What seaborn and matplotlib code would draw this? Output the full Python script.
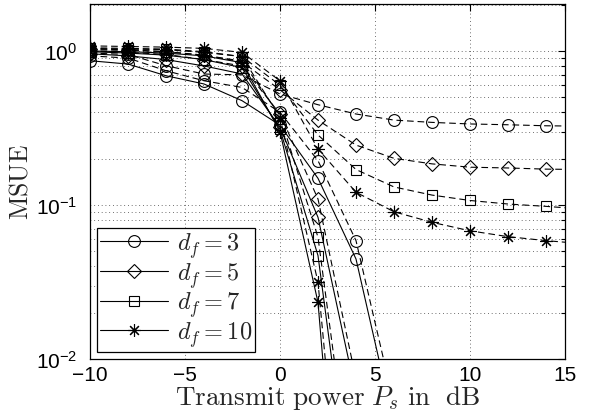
import numpy as np
import pandas as pd
import matplotlib
matplotlib.use("Agg")
import matplotlib.pyplot as plt
import seaborn as sns
from matplotlib.lines import Line2D
from matplotlib.ticker import FixedLocator, NullFormatter, LogFormatterSciNotation

# ---------------- data ----------------
power_db = [-10, -8, -6, -4, -2, 0, 2, 4, 6, 8, 10, 12, 14, 16]
df_labels = ["3", "5", "7", "10"]

# solid curves (steep)
solid_df3 = [0.865, 0.823, 0.691, 0.611, 0.476, 0.33, 0.149, 0.0446, 0.0037]
solid_df5 = [0.96, 0.93, 0.88, 0.80, 0.71, 0.32, 0.0832, 0.0059]
solid_df7 = [0.99, 0.97, 0.94, 0.88, 0.78, 0.31, 0.0469, 0.00064]
solid_df10 = [1.00, 0.99, 0.97, 0.93, 0.84, 0.30, 0.0233, 0.000027]

# dashed curves (steep)
dashsteep_df3 = [0.93, 0.90, 0.745, 0.641, 0.58, 0.40, 0.194, 0.0587, 0.0051]
dashsteep_df5 = [1.00, 0.98, 0.95, 0.88, 0.80, 0.39, 0.1094, 0.0074]
dashsteep_df7 = [1.02, 1.01, 0.99, 0.94, 0.86, 0.38, 0.0617, 0.00085]
dashsteep_df10 = [1.04, 1.03, 1.02, 0.98, 0.92, 0.37, 0.0315, 0.000076]

# dashed curves (error floor)
floor_df3 = [0.97, 0.95, 0.803, 0.709, 0.70, 0.526, 0.448, 0.390, 0.356, 0.344, 0.336, 0.332, 0.327, 0.325]
floor_df5 = [1.03, 1.02, 0.99, 0.94, 0.85, 0.56, 0.356, 0.245, 0.201, 0.185, 0.176, 0.174, 0.171, 0.170]
floor_df7 = [1.05, 1.04, 1.03, 0.99, 0.92, 0.60, 0.285, 0.170, 0.131, 0.116, 0.107, 0.1015, 0.098, 0.094]
floor_df10 = [1.08, 1.07, 1.06, 1.04, 0.98, 0.64, 0.231, 0.121, 0.0904, 0.0772, 0.068, 0.0623, 0.0587, 0.056]

x_ticks = [-10, -5, 0, 5, 10, 15]

# ---------------- style ----------------
sns.set_style("white")
plt.rcParams["font.family"] = ["Liberation Sans", "DejaVu Sans"]
plt.rcParams["mathtext.fontset"] = "custom"
plt.rcParams["mathtext.rm"] = "Liberation Sans"
plt.rcParams["mathtext.it"] = "Liberation Sans:italic"
plt.rcParams["mathtext.bf"] = "Liberation Sans:bold"
plt.rcParams["axes.unicode_minus"] = True

markers = {"3": "o", "5": "D", "7": "s", "10": (8, 2, 0)}
msizes = {"3": 8.5, "5": 7.5, "7": 7.0, "10": 9.0}
solid = {"3": solid_df3, "5": solid_df5, "7": solid_df7, "10": solid_df10}
dsteep = {"3": dashsteep_df3, "5": dashsteep_df5, "7": dashsteep_df7, "10": dashsteep_df10}
floor = {"3": floor_df3, "5": floor_df5, "7": floor_df7, "10": floor_df10}

fig = plt.figure(figsize=(6.02, 4.14), dpi=100)
ax = fig.add_axes([90 / 602, (414 - 360) / 414, 475 / 602, 355 / 414])

dash_pattern = (0, (6, 3.5))
lw = 0.8

def draw(vals, key, ls):
    d = pd.DataFrame({"x": power_db[:len(vals)], "y": vals})
    sns.lineplot(data=d, x="x", y="y", ax=ax, color="k", sort=False, estimator=None,
                 linewidth=lw, linestyle=ls, marker=markers[key], markersize=msizes[key],
                 markerfacecolor="none", markeredgecolor="k", markeredgewidth=0.8,
                 legend=False)

for key in df_labels:
    draw(floor[key], key, dash_pattern)
    draw(dsteep[key], key, dash_pattern)
    draw(solid[key], key, "-")

ax.set_yscale("log")
ax.set_xlim(-10, 15)
ax.set_ylim(0.01, 2.02)

ax.xaxis.set_major_locator(FixedLocator(x_ticks))
ax.yaxis.set_major_locator(FixedLocator([0.01, 0.1, 1.0]))
minor_y = [m * 10.0 ** e for e in (-2, -1, 0) for m in range(2, 10) if m * 10.0 ** e < 2.02]
ax.yaxis.set_minor_locator(FixedLocator(minor_y))
ax.yaxis.set_major_formatter(LogFormatterSciNotation())
ax.yaxis.set_minor_formatter(NullFormatter())

ax.tick_params(which="both", direction="in", top=True, right=True, labelsize=15,
               colors="k", width=0.8)
ax.tick_params(which="major", length=5)
ax.tick_params(which="minor", length=3)
ax.tick_params(axis="x", pad=4.5)
ax.tick_params(axis="y", pad=9)

ax.grid(True, which="major", axis="both", color="0.25", linestyle=(0, (1, 3.5)), linewidth=0.6)
ax.grid(True, which="minor", axis="y", color="0.25", linestyle=(0, (1, 3.5)), linewidth=0.6)
ax.set_axisbelow(True)
for s in ax.spines.values():
    s.set_color("k")
    s.set_linewidth(0.9)

ax.set_xlabel(r"$\mathrm{Transmit\ power}\ P_s\ \mathrm{in\ \ dB}$", fontsize=19.5,
              math_fontfamily="cm")
ax.xaxis.set_label_coords(0.5, -0.067)
ax.set_ylabel(r"$\mathrm{MSUE}$", fontsize=18.5, math_fontfamily="cm")
ax.yaxis.set_label_coords(-0.12, 0.5)

handles = [Line2D([], [], color="k", linewidth=lw, marker=markers[k], markersize=msizes[k],
                  markerfacecolor="none", markeredgecolor="k", markeredgewidth=0.8)
           for k in df_labels]
labels = [r"$d_f = %s$" % k for k in df_labels]
leg = ax.legend(handles, labels, loc="lower left", bbox_to_anchor=(0.015, 0.02),
                fontsize=17.5, frameon=True, fancybox=False, framealpha=1,
                edgecolor="k", handlelength=2.8, handletextpad=0.35,
                labelspacing=0.0, borderpad=0.12, borderaxespad=0)
leg.get_frame().set_linewidth(0.9)
for t in leg.get_texts():
    t.set_math_fontfamily("cm")

fig.savefig("out.png", dpi=100)
